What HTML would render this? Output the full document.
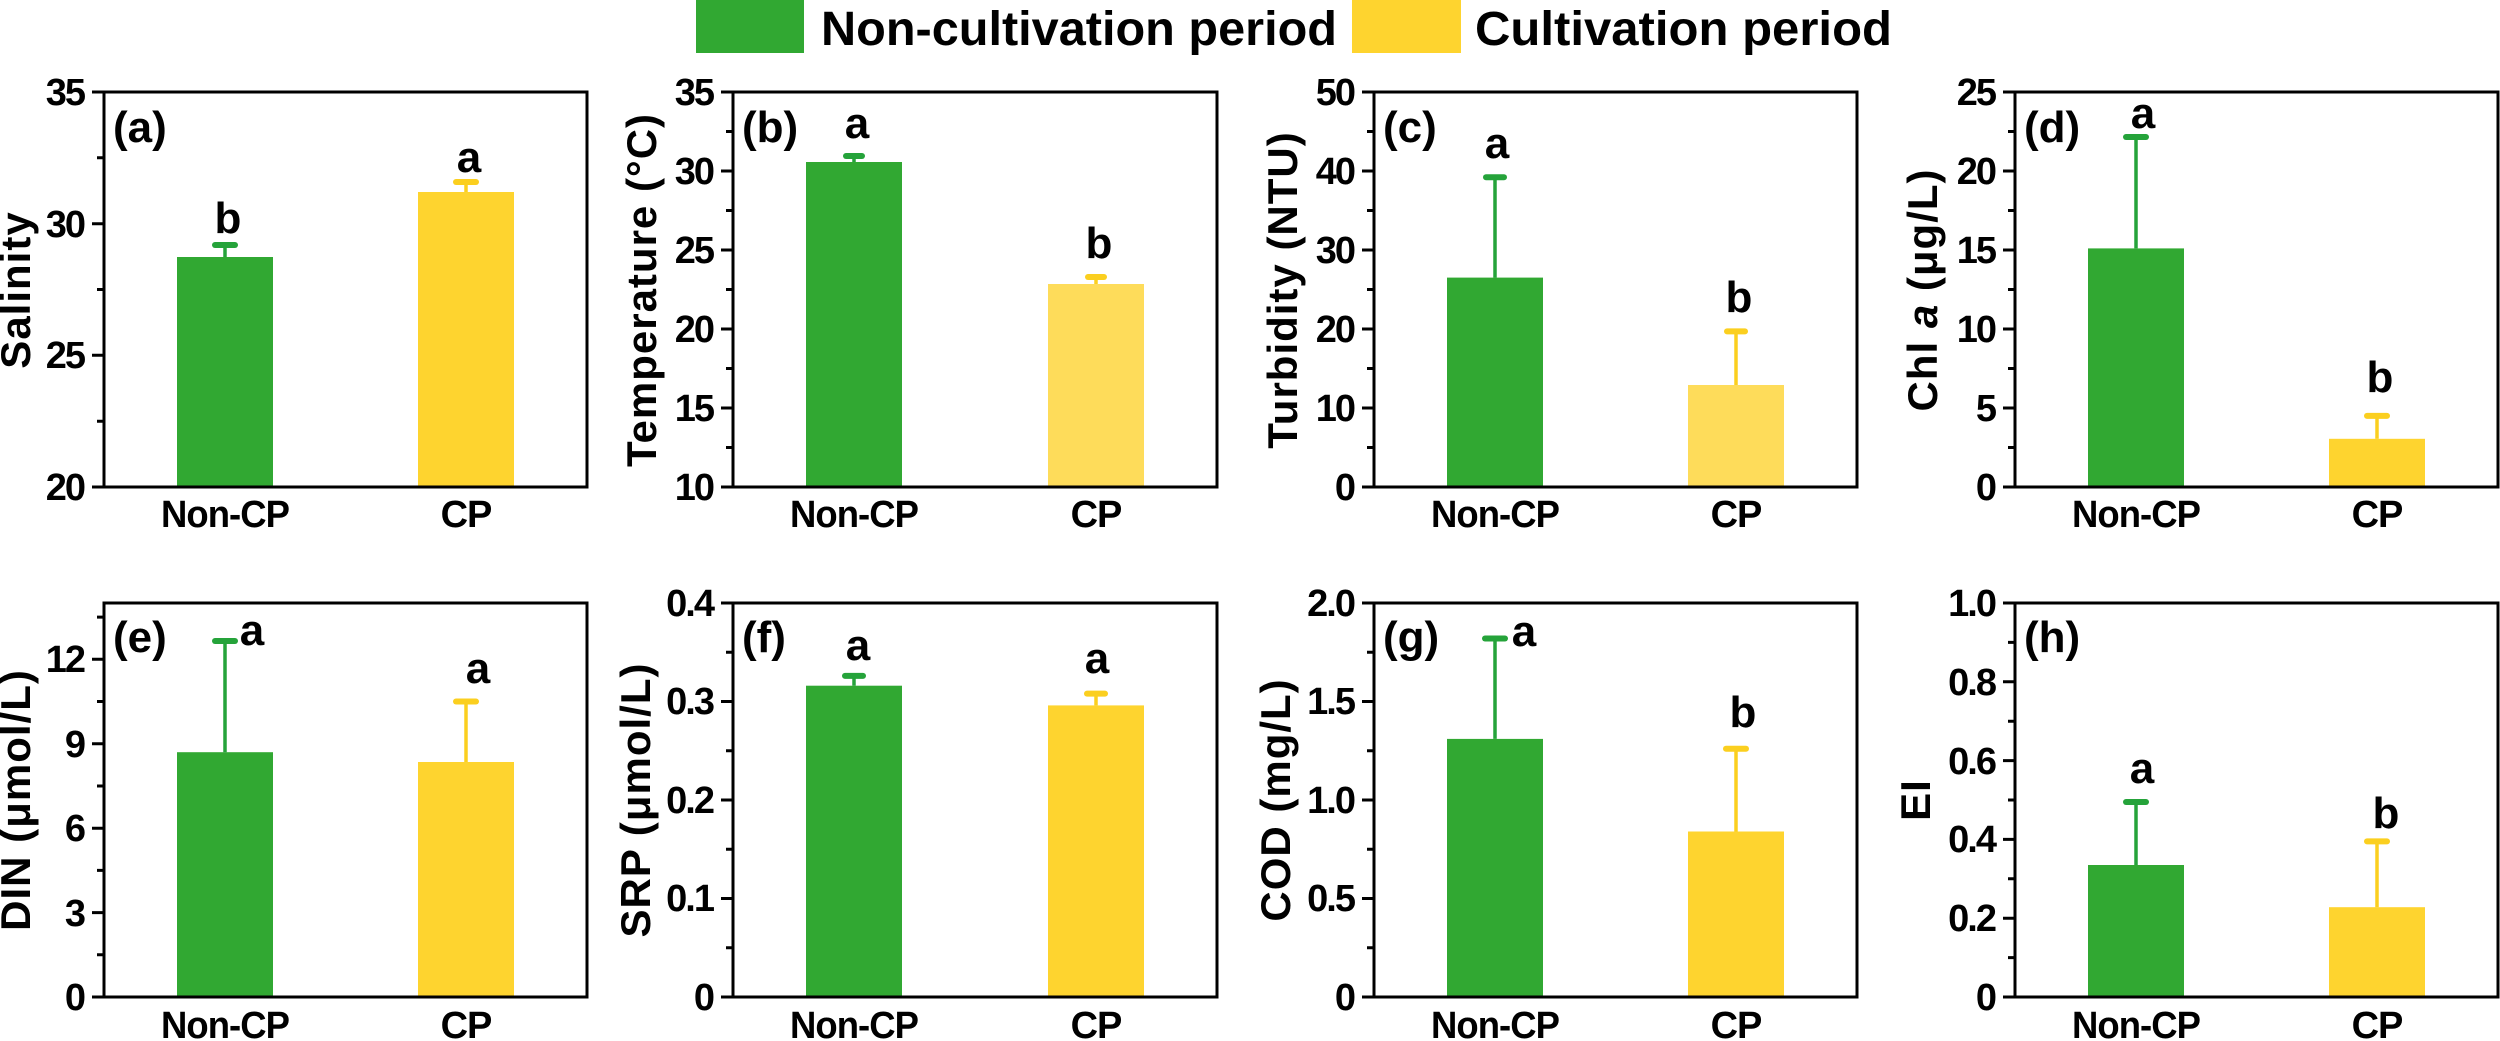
<!DOCTYPE html>
<html><head><meta charset="utf-8"><style>
html,body{margin:0;padding:0;background:#fff;}
svg{display:block;font-family:"Liberation Sans",Arial,sans-serif;font-weight:bold;}
.tl{font-size:38px;text-anchor:end;letter-spacing:-2px;}
.xl{font-size:38px;text-anchor:middle;letter-spacing:-1px;}
.yl{font-size:42px;text-anchor:middle;letter-spacing:1px;}
.pl{font-size:44px;}
.sig{font-size:44px;text-anchor:middle;}
.fr{fill:none;stroke:#000;stroke-width:3;}
.tk{stroke:#000;stroke-width:3;}
.g{fill:#31a832;}
.y{fill:#fed42f;}
.yl2{fill:#fedc5a;}
.eg{stroke:#25a33a;stroke-width:3.5;fill:none;}
.ey{stroke:#fbcf1f;stroke-width:3.5;fill:none;}
.cg{stroke:#25a33a;stroke-width:6;stroke-linecap:round;}
.cy{stroke:#fbcf1f;stroke-width:6;stroke-linecap:round;}
</style></head><body>
<svg width="2500" height="1041" viewBox="0 0 2500 1041" xmlns="http://www.w3.org/2000/svg">
<!-- Legend -->
<rect x="696" y="0" width="108" height="53" class="g"/>
<text x="821" y="45" style="font-size:48px" textLength="516" lengthAdjust="spacingAndGlyphs">Non-cultivation period</text>
<rect x="1352" y="0" width="109" height="53" class="y"/>
<text x="1475" y="45" style="font-size:48px" textLength="417" lengthAdjust="spacingAndGlyphs">Cultivation period</text>

<!-- Panel a -->
<rect x="177" y="257" width="96" height="230" class="g"/>
<rect x="418" y="192" width="96" height="295" class="y"/>
<line x1="225" y1="257" x2="225" y2="245" class="eg"/><line x1="215" y1="245" x2="235" y2="245" class="cg"/>
<line x1="466" y1="192" x2="466" y2="182" class="ey"/><line x1="456" y1="182" x2="476" y2="182" class="cy"/>
<rect x="104" y="92" width="483" height="395" class="fr"/>
<path class="tk" d="M92 487H104M97 421.2H104M92 355.3H104M97 289.5H104M92 223.7H104M97 157.8H104M92 92H104"/>
<text class="tl" x="84" y="500">20</text><text class="tl" x="84" y="368">25</text><text class="tl" x="84" y="237">30</text><text class="tl" x="84" y="105">35</text>
<text class="xl" x="225" y="527" textLength="128" lengthAdjust="spacingAndGlyphs">Non-CP</text><text class="xl" x="466" y="527">CP</text>
<text class="yl" transform="translate(30,290) rotate(-90)">Salinity</text>
<text class="pl" x="113" y="142">(a)</text>
<text class="sig" x="228" y="233">b</text><text class="sig" x="469" y="172">a</text>

<!-- Panel b -->
<rect x="806" y="162" width="96" height="325" class="g"/>
<rect x="1048" y="284" width="96" height="203" class="yl2"/>
<line x1="854" y1="162" x2="854" y2="156" class="eg"/><line x1="846" y1="156" x2="862" y2="156" class="cg"/>
<line x1="1096" y1="284" x2="1096" y2="277" class="ey"/><line x1="1088" y1="277" x2="1104" y2="277" class="cy"/>
<rect x="733" y="92" width="484" height="395" class="fr"/>
<path class="tk" d="M721 487H733M726 447.5H733M721 408H733M726 368.5H733M721 329H733M726 289.5H733M721 250H733M726 210.5H733M721 171H733M726 131.5H733M721 92H733"/>
<text class="tl" x="713" y="500">10</text><text class="tl" x="713" y="421">15</text><text class="tl" x="713" y="342">20</text><text class="tl" x="713" y="263">25</text><text class="tl" x="713" y="184">30</text><text class="tl" x="713" y="105">35</text>
<text class="xl" x="854" y="527" textLength="128" lengthAdjust="spacingAndGlyphs">Non-CP</text><text class="xl" x="1096" y="527">CP</text>
<text class="yl" transform="translate(656,290) rotate(-90)">Temperature (°C)</text>
<text class="pl" x="742" y="142">(b)</text>
<text class="sig" x="857" y="138">a</text><text class="sig" x="1099" y="258">b</text>

<!-- Panel c -->
<rect x="1447" y="277.6" width="96" height="209.4" class="g"/>
<rect x="1688" y="385" width="96" height="102" class="yl2"/>
<line x1="1495" y1="277.6" x2="1495" y2="177.3" class="eg"/><line x1="1486" y1="177.3" x2="1504" y2="177.3" class="cg"/>
<line x1="1736" y1="385" x2="1736" y2="331.4" class="ey"/><line x1="1727" y1="331.4" x2="1745" y2="331.4" class="cy"/>
<rect x="1374" y="92" width="483" height="395" class="fr"/>
<path class="tk" d="M1362 487H1374M1367 447.5H1374M1362 408H1374M1367 368.5H1374M1362 329H1374M1367 289.5H1374M1362 250H1374M1367 210.5H1374M1362 171H1374M1367 131.5H1374M1362 92H1374"/>
<text class="tl" x="1354" y="500">0</text><text class="tl" x="1354" y="421">10</text><text class="tl" x="1354" y="342">20</text><text class="tl" x="1354" y="263">30</text><text class="tl" x="1354" y="184">40</text><text class="tl" x="1354" y="105">50</text>
<text class="xl" x="1495" y="527" textLength="128" lengthAdjust="spacingAndGlyphs">Non-CP</text><text class="xl" x="1736" y="527">CP</text>
<text class="yl" transform="translate(1297,290) rotate(-90)">Turbidity (NTU)</text>
<text class="pl" x="1383" y="142">(c)</text>
<text class="sig" x="1497" y="158">a</text><text class="sig" x="1739" y="312">b</text>

<!-- Panel d -->
<rect x="2088" y="248.4" width="96" height="238.6" class="g"/>
<rect x="2329" y="438.8" width="96" height="48.2" class="y"/>
<line x1="2136" y1="248.4" x2="2136" y2="137" class="eg"/><line x1="2126" y1="137" x2="2146" y2="137" class="cg"/>
<line x1="2377" y1="438.8" x2="2377" y2="415.9" class="ey"/><line x1="2367" y1="415.9" x2="2387" y2="415.9" class="cy"/>
<rect x="2015" y="92" width="483" height="395" class="fr"/>
<path class="tk" d="M2003 487H2015M2008 447.5H2015M2003 408H2015M2008 368.5H2015M2003 329H2015M2008 289.5H2015M2003 250H2015M2008 210.5H2015M2003 171H2015M2008 131.5H2015M2003 92H2015"/>
<text class="tl" x="1995" y="500">0</text><text class="tl" x="1995" y="421">5</text><text class="tl" x="1995" y="342">10</text><text class="tl" x="1995" y="263">15</text><text class="tl" x="1995" y="184">20</text><text class="tl" x="1995" y="105">25</text>
<text class="xl" x="2136" y="527" textLength="128" lengthAdjust="spacingAndGlyphs">Non-CP</text><text class="xl" x="2377" y="527">CP</text>
<text class="yl" transform="translate(1937,290) rotate(-90)">Chl <tspan font-style="italic">a</tspan> (μg/L)</text>
<text class="pl" x="2024" y="142">(d)</text>
<text class="sig" x="2143" y="128">a</text><text class="sig" x="2380" y="392">b</text>

<!-- Panel e -->
<rect x="177" y="752.2" width="96" height="244.8" class="g"/>
<rect x="418" y="762" width="96" height="235" class="y"/>
<line x1="225" y1="752.2" x2="225" y2="641" class="eg"/><line x1="215" y1="641" x2="235" y2="641" class="cg"/>
<line x1="466" y1="762" x2="466" y2="701.5" class="ey"/><line x1="456" y1="701.5" x2="476" y2="701.5" class="cy"/>
<rect x="104" y="603" width="483" height="394" class="fr"/>
<path class="tk" d="M92 997H104M97 954.8H104M92 912.6H104M97 870.4H104M92 828.2H104M97 786H104M92 743.7H104M97 701.5H104M92 659.3H104M97 617.1H104"/>
<text class="tl" x="84" y="1010">0</text><text class="tl" x="84" y="926">3</text><text class="tl" x="84" y="841">6</text><text class="tl" x="84" y="757">9</text><text class="tl" x="84" y="672">12</text>
<text class="xl" x="225" y="1038" textLength="128" lengthAdjust="spacingAndGlyphs">Non-CP</text><text class="xl" x="466" y="1038">CP</text>
<text class="yl" transform="translate(30,800) rotate(-90)">DIN (μmol/L)</text>
<text class="pl" x="113" y="652">(e)</text>
<text class="sig" x="252" y="645">a</text><text class="sig" x="478" y="683">a</text>

<!-- Panel f -->
<rect x="806" y="685.7" width="96" height="311.3" class="g"/>
<rect x="1048" y="705.4" width="96" height="291.6" class="y"/>
<line x1="854" y1="685.7" x2="854" y2="675.9" class="eg"/><line x1="845" y1="675.9" x2="863" y2="675.9" class="cg"/>
<line x1="1096" y1="705.4" x2="1096" y2="693.6" class="ey"/><line x1="1087" y1="693.6" x2="1105" y2="693.6" class="cy"/>
<rect x="733" y="603" width="484" height="394" class="fr"/>
<path class="tk" d="M721 997H733M726 947.75H733M721 898.5H733M726 849.25H733M721 800H733M726 750.75H733M721 701.5H733M726 652.25H733M721 603H733"/>
<text class="tl" x="713" y="1010">0</text><text class="tl" x="713" y="911">0.1</text><text class="tl" x="713" y="813">0.2</text><text class="tl" x="713" y="714">0.3</text><text class="tl" x="713" y="616">0.4</text>
<text class="xl" x="854" y="1038" textLength="128" lengthAdjust="spacingAndGlyphs">Non-CP</text><text class="xl" x="1096" y="1038">CP</text>
<text class="yl" transform="translate(650,800) rotate(-90)">SRP (μmol/L)</text>
<text class="pl" x="742" y="652">(f)</text>
<text class="sig" x="858" y="660">a</text><text class="sig" x="1097" y="673">a</text>

<!-- Panel g -->
<rect x="1447" y="738.9" width="96" height="258.1" class="g"/>
<rect x="1688" y="831.5" width="96" height="165.5" class="y"/>
<line x1="1495" y1="738.9" x2="1495" y2="638.5" class="eg"/><line x1="1485" y1="638.5" x2="1505" y2="638.5" class="cg"/>
<line x1="1736" y1="831.5" x2="1736" y2="748.8" class="ey"/><line x1="1726" y1="748.8" x2="1746" y2="748.8" class="cy"/>
<rect x="1374" y="603" width="483" height="394" class="fr"/>
<path class="tk" d="M1362 997H1374M1367 947.75H1374M1362 898.5H1374M1367 849.25H1374M1362 800H1374M1367 750.75H1374M1362 701.5H1374M1367 652.25H1374M1362 603H1374"/>
<text class="tl" x="1354" y="1010">0</text><text class="tl" x="1354" y="911">0.5</text><text class="tl" x="1354" y="813">1.0</text><text class="tl" x="1354" y="714">1.5</text><text class="tl" x="1354" y="616">2.0</text>
<text class="xl" x="1495" y="1038" textLength="128" lengthAdjust="spacingAndGlyphs">Non-CP</text><text class="xl" x="1736" y="1038">CP</text>
<text class="yl" transform="translate(1290,800) rotate(-90)">COD (mg/L)</text>
<text class="pl" x="1383" y="652">(g)</text>
<text class="sig" x="1524" y="646">a</text><text class="sig" x="1743" y="727">b</text>

<!-- Panel h -->
<rect x="2088" y="865" width="96" height="132" class="g"/>
<rect x="2329" y="907.2" width="96" height="89.8" class="y"/>
<line x1="2136" y1="865" x2="2136" y2="802" class="eg"/><line x1="2126" y1="802" x2="2146" y2="802" class="cg"/>
<line x1="2377" y1="907.2" x2="2377" y2="841.4" class="ey"/><line x1="2367" y1="841.4" x2="2387" y2="841.4" class="cy"/>
<rect x="2015" y="603" width="483" height="394" class="fr"/>
<path class="tk" d="M2003 997H2015M2008 957.6H2015M2003 918.2H2015M2008 878.8H2015M2003 839.4H2015M2008 800H2015M2003 760.6H2015M2008 721.2H2015M2003 681.8H2015M2008 642.4H2015M2003 603H2015"/>
<text class="tl" x="1995" y="1010">0</text><text class="tl" x="1995" y="931">0.2</text><text class="tl" x="1995" y="852">0.4</text><text class="tl" x="1995" y="774">0.6</text><text class="tl" x="1995" y="695">0.8</text><text class="tl" x="1995" y="616">1.0</text>
<text class="xl" x="2136" y="1038" textLength="128" lengthAdjust="spacingAndGlyphs">Non-CP</text><text class="xl" x="2377" y="1038">CP</text>
<text class="yl" transform="translate(1930,800) rotate(-90)">EI</text>
<text class="pl" x="2024" y="652">(h)</text>
<text class="sig" x="2142" y="783">a</text><text class="sig" x="2386" y="828">b</text>
</svg>
</body></html>
